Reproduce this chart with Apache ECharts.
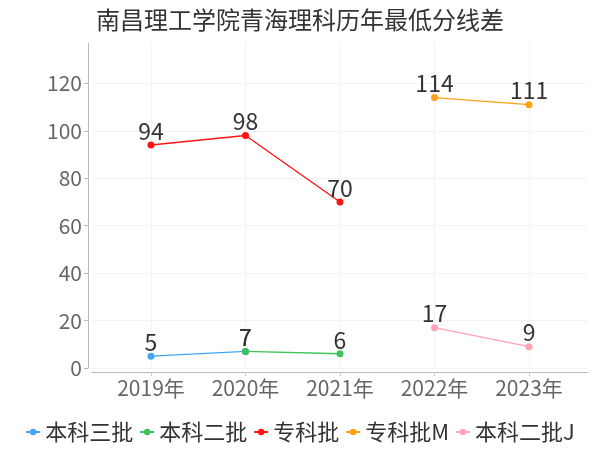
<!DOCTYPE html>
<html>
<head>
<meta charset="utf-8">
<script src="https://cdn.jsdelivr.net/npm/echarts@6/dist/echarts.min.js"></script>
<style>
html, body { margin: 0; padding: 0; background: #fff; }
#main { width: 600px; height: 450px; }
</style>
</head>
<body>
<div id="main"></div>
<script>
var years = ['2019年', '2020年', '2021年', '2022年', '2023年'];
var names = ['本科三批', '本科二批', '专科批', '专科批M', '本科二批J'];
var colors = ['#42a5f5', '#3cc45a', '#ff1414', '#ffa012', '#ffa3b5'];

var bk3 = [5, 7, null, null, null];
var bk2 = [null, 7, 6, null, null];
var zk = [94, 98, 70, null, null];
var zkM = [null, null, null, 114, 111];
var bk2J = [null, null, null, 17, 9];

var yTicks = [0, 20, 40, 60, 80, 100, 120];

var font = '"Noto Sans CJK SC", sans-serif';

// 转换成 [序号, 值]
function toPairs(arr) {
	var out = [];
	for (var i = 0; i < arr.length; i++) {
		if (arr[i] !== null) out.push([i, arr[i]]);
	}
	return out;
}

function makeSeries(name, arr, color) {
	return {
		name: name,
		type: 'line',
		data: toPairs(arr),
		symbol: 'circle',
		symbolSize: 7,
		lineStyle: { color: color, width: 1.3 },
		itemStyle: { color: color },
		label: {
			show: true,
			position: 'top',
			distance: -1,
			fontSize: 23,
			color: '#333',
			fontFamily: font
		},
		emphasis: { disabled: true }
	};
}

var myChart = echarts.init(document.getElementById('main'));
var option = {
	animation: false,
	title: {
		text: '南昌理工学院青海理科历年最低分线差',
		left: 'center',
		top: 3,
		textStyle: { fontSize: 24, fontWeight: 'normal', color: '#333', fontFamily: font }
	},
	legend: {
		data: names,
		bottom: 2,
		left: 'center',
		itemWidth: 14,
		itemHeight: 8,
		itemGap: 6,
		textStyle: { fontSize: 22, color: '#333', fontFamily: font }
	},
	grid: { left: 92, right: 12, top: 43, bottom: 82, containLabel: false },
	xAxis: {
		type: 'value',
		min: -0.624,
		max: 4.624,
		offset: 4,
		axisLine: { show: true, onZero: false, lineStyle: { color: '#bbb' } },
		axisTick: { show: true, customValues: [0, 1, 2, 3, 4], length: 4, lineStyle: { color: '#ccc' } },
		axisLabel: {
			customValues: [0, 1, 2, 3, 4],
			formatter: function (v) { return years[Math.round(v)]; },
			fontSize: 21,
			color: '#666',
			margin: 6,
			fontFamily: font
		},
		splitLine: { show: true, lineStyle: { color: '#f3f3f3' } }
	},
	yAxis: {
		type: 'value',
		min: 0,
		max: 137,
		interval: 20,
		offset: 4,
		axisLine: { show: true, onZero: false, lineStyle: { color: '#bbb' } },
		axisTick: { show: true, customValues: yTicks, length: 4, lineStyle: { color: '#bbb' } },
		axisLabel: { customValues: yTicks, fontSize: 21, color: '#666', margin: 6, fontFamily: font },
		splitLine: { show: true, lineStyle: { color: '#f3f3f3' } }
	},
	series: [
		makeSeries(names[0], bk3, colors[0]),
		makeSeries(names[1], bk2, colors[1]),
		makeSeries(names[2], zk, colors[2]),
		makeSeries(names[3], zkM, colors[3]),
		makeSeries(names[4], bk2J, colors[4])
	]
};
myChart.setOption(option);
</script>
</body>
</html>
